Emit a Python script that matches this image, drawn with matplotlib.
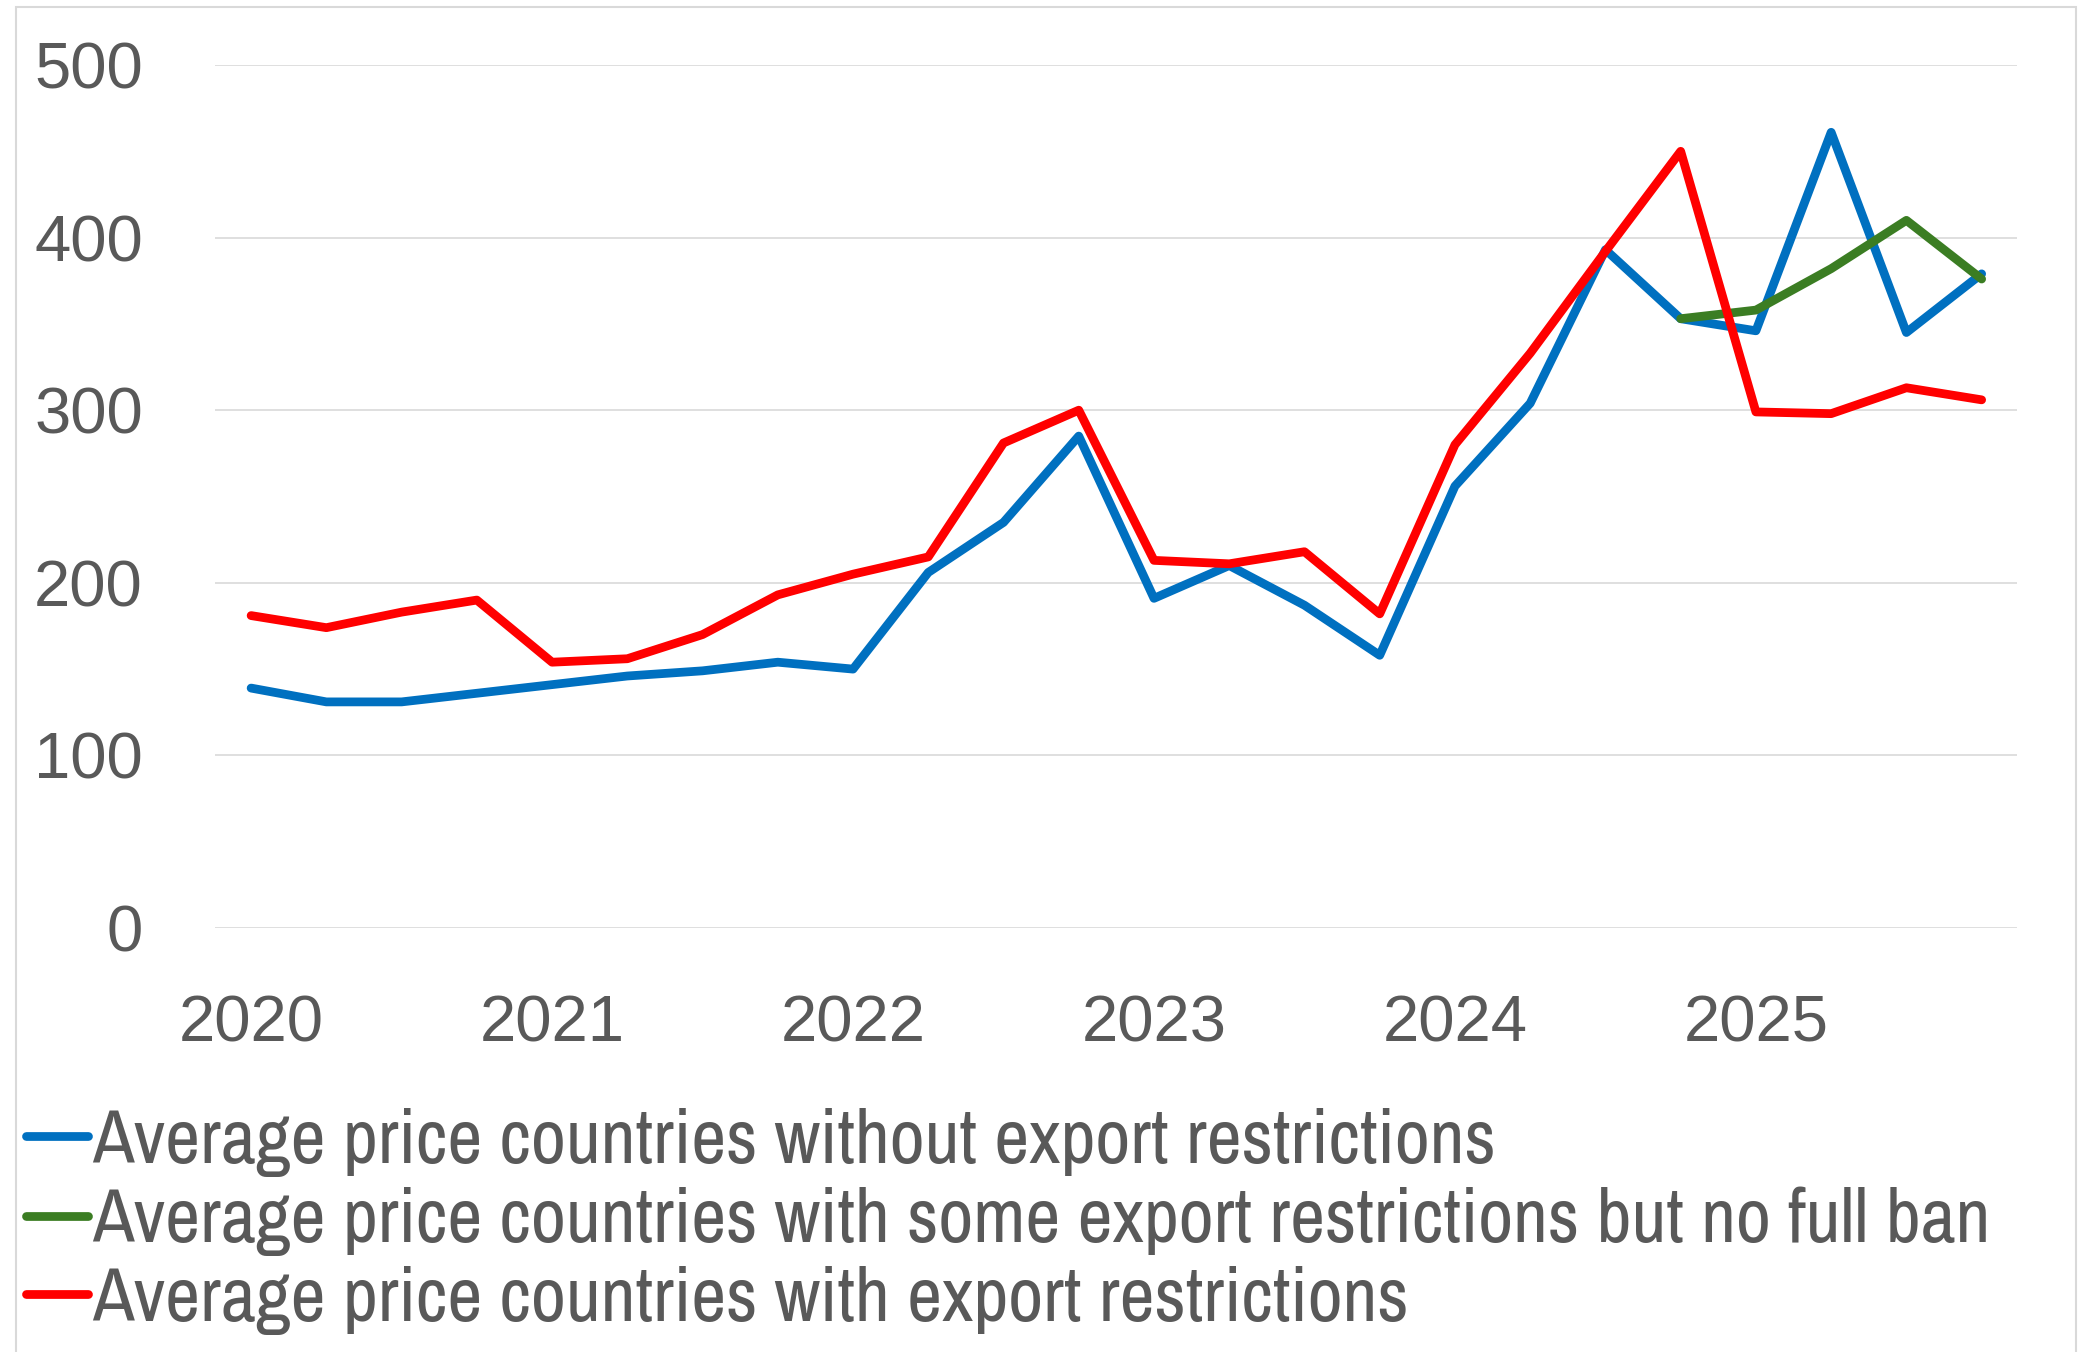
import numpy as np
import matplotlib
matplotlib.use('Agg')
import matplotlib.pyplot as plt
from matplotlib import font_manager
from matplotlib.patches import Rectangle

# quarterly averages, 2020 Q1 .. 2025 Q4
quarters = list(range(24))
year_labels = ['2020', '2021', '2022', '2023', '2024', '2025']
year_ticks = [0, 4, 8, 12, 16, 20]

no_restr = [139, 131, 131, 136, 141, 146, 149, 154, 150, 206, 235, 285,
            191, 210, 187, 158, 256, 304, 393, 353, 346, 461, 345, 379]
some_restr = [np.nan] * 19 + [353, 358, 382, 410, 376]
restr = [181, 174, 183, 190, 154, 156, 170, 193, 205, 215, 281, 300,
         213, 211, 218, 182, 280, 333, 392, 450, 299, 298, 313, 306]

names = ['Average price countries without export restrictions',
         'Average price countries with some export restrictions but no full ban',
         'Average price countries with export restrictions']
colors = ['#0070C0', '#3B7D23', '#FF0000']

grey = '#595959'
avail = sorted({f.name for f in font_manager.fontManager.ttflist})
narrow = [n for n in avail if 'Narrow' in n or 'Condensed' in n]
leg_font = narrow[0] if narrow else 'Liberation Sans'
leg_width = 1900 if narrow else 1965

W, H = 2082, 1352
fig = plt.figure(figsize=(W / 100, H / 100), dpi=100)
ax = fig.add_axes([215 / W, 1 - 928 / H, 1802 / W, 863 / H])

for ys, c, lab in zip([no_restr, some_restr, restr], colors, names):
    ax.plot(quarters, ys, color=c, lw=6.3, label=lab,
            solid_capstyle='round', solid_joinstyle='round')

ax.set_xlim(-0.48, 23.47)
ax.set_ylim(0, 500)
ax.set_yticks(range(0, 501, 100))
ax.set_xticks(year_ticks)
ax.set_xticklabels(year_labels)
ax.grid(axis='y', color='#D9D9D9', lw=1.2)
ax.set_axisbelow(True)
for s in ax.spines.values():
    s.set_visible(False)
ax.tick_params(axis='both', length=0, colors=grey, labelsize=47)
ax.tick_params(axis='y', pad=52)
ax.tick_params(axis='x', pad=48)
for t in ax.get_xticklabels() + ax.get_yticklabels():
    t.set_family('Liberation Sans')

# size the legend font from the width of the longest label
renderer = fig.canvas.get_renderer()
probe = fig.text(0, 0, names[1], family=leg_font, size=40)
bb = probe.get_window_extent(renderer)
probe.remove()
leg_size = 40 * leg_width / bb.width
row_h = bb.height * leg_size / 40
fs_px = leg_size * 100 / 72
spacing = max((80 - row_h) / fs_px, 0)

leg = fig.legend(loc='upper left', bbox_to_anchor=(26 / W, 1 - (1143 - row_h / 2) / H),
                 frameon=False, borderpad=0, borderaxespad=0,
                 handlelength=62 / fs_px, handletextpad=0.05, labelspacing=spacing,
                 prop={'family': leg_font, 'size': leg_size})
for t in leg.get_texts():
    t.set_color(grey)
for h in leg.legend_handles:
    h.set_linewidth(6.3)

# chart area border
fig.patches.append(Rectangle((16 / W, -0.01), (2076 - 16) / W, 1.01 - 7 / H,
                             transform=fig.transFigure, fill=False,
                             edgecolor='#D9D9D9', lw=1.5))

fig.savefig('out.png', dpi=100, facecolor='white')
